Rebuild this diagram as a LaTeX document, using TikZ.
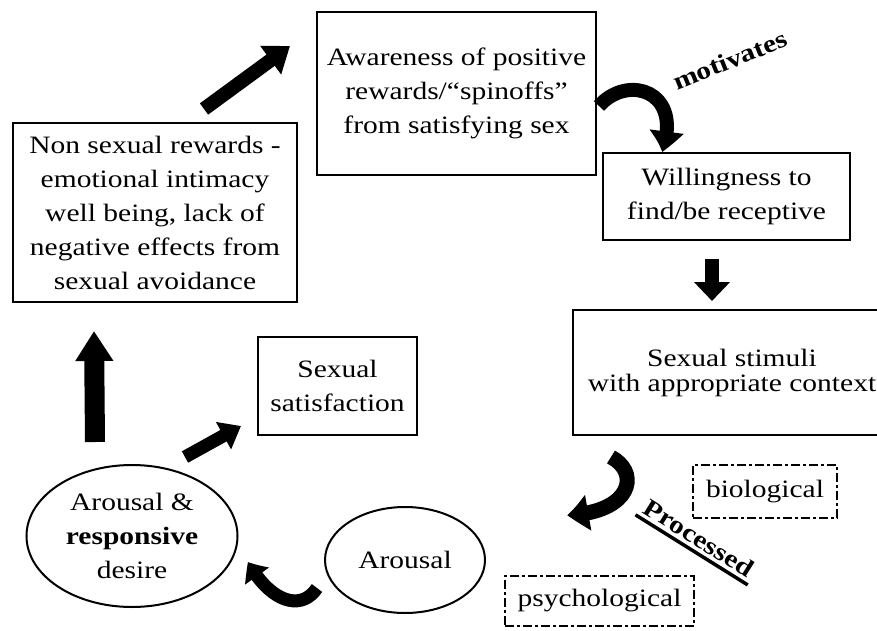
\documentclass[tikz,border=0pt]{standalone}
\usepackage{fontspec}
\setmainfont{Liberation Serif}[FakeStretch=1.18]
\usetikzlibrary{arrows.meta,bending,shapes.geometric,calc}
\begin{document}
\begin{tikzpicture}[x=1pt,y=-1pt, font=\fontsize{25}{34}\selectfont,
  box/.style={draw, line width=2pt, inner sep=0pt, align=center},
  dbox/.style={draw, line width=1.8pt, dash pattern=on 9pt off 3pt on 3pt off 3pt, inner sep=0pt},
  oval/.style={draw, ellipse, line width=2pt, inner sep=0pt, align=center},
  fat/.style={line width=#1, line cap=butt},
]
\useasboundingbox (0,0) rectangle (877,631);

\node[box, minimum width=279pt, minimum height=163pt] (aware) at (456.5,93.5)
  {Awareness of positive\\rewards/“spinoffs”\\from satisfying sex};
\node[box, minimum width=247pt, minimum height=87pt] (will) at (726.5,196.5)
  {Willingness to\\find/be receptive};
\node[box, minimum width=318pt, minimum height=125pt, font=\fontsize{25}{25}\selectfont] (stim) at (732,372.5)
  {Sexual stimuli\\with appropriate context};
\node[box, minimum width=284pt, minimum height=179pt] (nonsex) at (155,212.5)
  {Non sexual rewards -\\emotional intimacy\\well being, lack of\\negative effects from\\sexual avoidance};
\node[box, minimum width=159pt, minimum height=98pt] (satis) at (337.5,386)
  {Sexual\\satisfaction};
\node[oval, minimum width=211pt, minimum height=142pt] (ard) at (132,536)
  {Arousal \&\\\textbf{responsive}\\desire};
\node[oval, minimum width=160pt, minimum height=106pt] (ar) at (405,560) {Arousal};
\node[dbox, minimum width=144pt, minimum height=53pt] (bio) at (765,491.5) {biological};
\node[dbox, minimum width=189pt, minimum height=50pt] (psy) at (599.5,601) {psychological};

\node[rotate=22, inner sep=0pt] (mot) at (730,60) {\textbf{motivates}};
\node[rotate=-32, inner xsep=4pt, inner ysep=5pt] (proc) at (699,538) {\textbf{Processed}};
\draw[line width=3.5pt] (proc.south west) -- (proc.south east);

% straight block arrows
\draw[fat=14pt, -{Triangle[length=24pt,width=34pt]}]
  ([shift={(192,-13)}]nonsex.north west) -- ([shift={(-26,35)}]aware.north west);
\draw[fat=20pt, -{Triangle[length=30pt,width=36pt]}]
  ([shift={(-37,-22)}]ard.north) -- ([shift={(82,28)}]nonsex.south west);
\draw[fat=13pt, -{Triangle[length=20pt,width=30pt]}]
  ([shift={(53,-7)}]ard.north) -- ([shift={(-16,-10)}]satis.south west);
\draw[fat=14pt, -{Triangle[length=19pt,width=35pt]}]
  ([shift={(-14.5,18)}]will.south) -- ([shift={(-20,-8)}]stim.north);

% curved block arrows
\draw[fat=14pt, -{Triangle[length=22pt,width=32pt,bend]}]
  ([shift={(2,12.5)}]aware.east) .. controls +(28,-32) and +(22,-62) .. ([shift={(60,0)}]will.north west);
\draw[fat=15pt, -{Triangle[length=22pt,width=34pt,bend]}]
  ([shift={(39,21)}]stim.south west) .. controls +(30,16) and +(64,-2) .. ([shift={(63,-60)}]psy.north west);
\draw[fat=13pt, -{Triangle[length=17pt,width=28pt,bend]}]
  ([shift={(-7,28)}]ar.west) .. controls +(-16,24) and +(22,40) .. ([shift={(9.5,26)}]ard.east);
\end{tikzpicture}
\end{document}
